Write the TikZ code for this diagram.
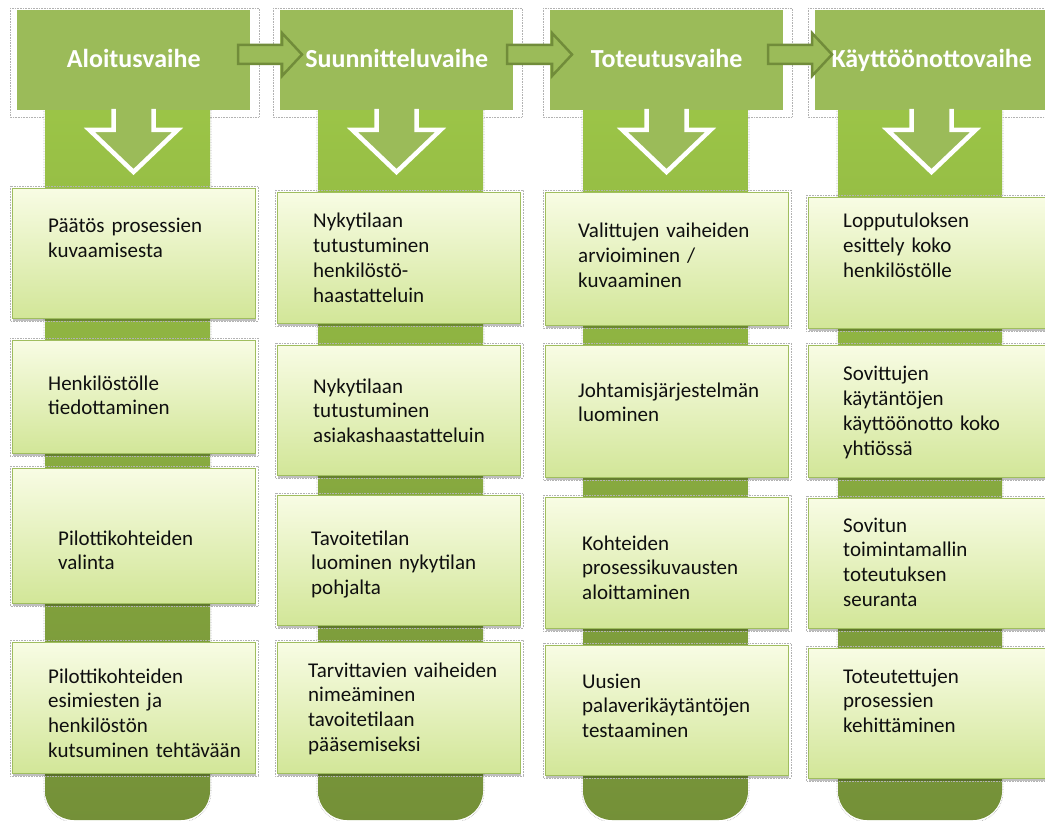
\documentclass[tikz,border=0pt]{standalone}
\usepackage{fontspec}
\setmainfont{Carlito}
\usetikzlibrary{shadows}
\definecolor{hdr}{RGB}{155,187,89}
\definecolor{hdrdark}{RGB}{113,140,58}
\definecolor{stemtop}{RGB}{158,200,72}
\definecolor{stembot}{RGB}{116,144,56}
\definecolor{boxtop}{RGB}{248,252,228}
\definecolor{boxbot}{RGB}{210,230,152}
\definecolor{boxline}{RGB}{160,190,95}
\definecolor{txtc}{RGB}{15,15,15}
\newcommand{\mkbox}[4]{%
  \draw[selline] (#2-2,#3-2) rectangle (#2+246,#4+3);
  \node[box, minimum height={#4pt-#3pt}] (#1) at (#2,#3) {};
}
\begin{document}
\begin{tikzpicture}[x=1pt,y=-1pt,
  selline/.style={draw=black!30, densely dotted, line width=0.6pt},
  header/.style={fill=hdr, anchor=north west, minimum width=233pt, minimum height=100pt,
    inner sep=0pt, text height=20pt, text depth=5pt, text=white,
    font=\bfseries\fontsize{26pt}{30pt}\selectfont},
  stem/.style={top color=stemtop, bottom color=stembot, rounded corners=29pt},
  chev/.style={draw=white, line width=4.5pt, line join=miter, miter limit=3},
  harrow/.style={fill=hdr, draw=hdrdark, line width=2.5pt, line join=miter},
  box/.style={anchor=north west, minimum width=243pt, inner sep=0pt, draw=boxline, line width=0.8pt,
    top color=boxtop, bottom color=boxbot,
    drop shadow={shadow xshift=1pt, shadow yshift=-3pt, fill=black, opacity=0.25}},
  txt/.style={anchor=base west, inner sep=0pt, text width=235pt, align=left, text=txtc,
    font=\fontsize{21pt}{24.8pt}\selectfont}
]
\useasboundingbox (0,0) rectangle (1045,821);
\fill[white] (0,0) rectangle (1045,821);

\foreach \i/\hx/\sa/\sb/\lab in {1/17/45/210/Aloitusvaihe, 2/280/318/483/Suunnitteluvaihe,
    3/550/583/748/Toteutusvaihe, 4/815/838/1002/Käyttöönottovaihe}{
  \draw[selline] (\hx-7,8) rectangle (\hx+242,117);
  \shade[stem] (\sa,60) rectangle (\sb,820);
  \draw[selline, rounded corners=30pt] (\sa-1,100) -- (\sa-1,822) -- (\sb+1,822) -- (\sb+1,100);
  \node[header] (h\i) at (\hx,10) {\lab};
  \pgfmathsetmacro{\cx}{\hx+116.5}
  \fill[hdr] (\cx-20,105) -- (\cx-20,130) -- (\cx-44,130) -- (\cx,172) -- (\cx+44,130) -- (\cx+20,130) -- (\cx+20,105) -- cycle;
  \draw[chev] (\cx-20,109) -- (\cx-20,130) -- (\cx-44,130) -- (\cx,172) -- (\cx+44,130) -- (\cx+20,130) -- (\cx+20,109);
}

% block arrows between the phase headers
\draw[harrow] (238,45) -- (282,45) -- (282,33) -- (302,54.5) -- (282,76) -- (282,64) -- (238,64) -- cycle;
\draw[harrow] (507,45) -- (552,45) -- (552,33) -- (572,54.5) -- (552,76) -- (552,64) -- (507,64) -- cycle;
\draw[harrow] (768,45) -- (812,45) -- (812,33) -- (832,54.5) -- (812,76) -- (812,64) -- (768,64) -- cycle;

% column 1
\mkbox{b11}{12}{188}{318}
\mkbox{b12}{12}{340}{453}
\mkbox{b13}{12}{468}{603}
\mkbox{b14}{12}{642}{773}
\node[txt] (t11) at (48,233) {Päätös prosessien\\kuvaamisesta};
\node[txt] (t12) at (48,390) {Henkilöstölle\\tiedottaminen};
\node[txt] (t13) at (58,545) {Pilottikohteiden\\valinta};
\node[txt] (t14) at (48,683) {Pilottikohteiden\\esimiesten ja\\henkilöstön\\kutsuminen tehtävään};

% column 2
\mkbox{b21}{277}{192}{323}
\mkbox{b22}{277}{345}{475}
\mkbox{b23}{277}{495}{625}
\mkbox{b24}{277}{642}{773}
\node[txt] (t21) at (313,228) {Nykytilaan\\tutustuminen\\henkilöstö-\\haastatteluin};
\node[txt] (t22) at (313,393) {Nykytilaan\\tutustuminen\\asiakashaastatteluin};
\node[txt] (t23) at (311,545) {Tavoitetilan\\luominen nykytilan\\pohjalta};
\node[txt] (t24) at (308,677) {Tarvittavien vaiheiden\\nimeäminen\\tavoitetilaan\\pääsemiseksi};

% column 3
\mkbox{b31}{545}{192}{325}
\mkbox{b32}{545}{345}{477}
\mkbox{b33}{545}{497}{628}
\mkbox{b34}{545}{645}{775}
\node[txt] (t31) at (578,238) {Valittujen vaiheiden\\arvioiminen /\\kuvaaminen};
\node[txt] (t32) at (578,397) {Johtamisjärjestelmän\\luominen};
\node[txt] (t33) at (582,550) {Kohteiden\\prosessikuvausten\\aloittaminen};
\node[txt] (t34) at (582,688) {Uusien\\palaverikäytäntöjen\\testaaminen};

% column 4
\mkbox{b41}{808}{197}{328}
\mkbox{b42}{808}{345}{477}
\mkbox{b43}{808}{498}{628}
\mkbox{b44}{808}{648}{778}
\node[txt] (t41) at (843,228) {Lopputuloksen\\esittely koko\\henkilöstölle};
\node[txt] (t42) at (843,381) {Sovittujen\\käytäntöjen\\käyttöönotto koko\\yhtiössä};
\node[txt] (t43) at (843,532) {Sovitun\\toimintamallin\\toteutuksen\\seuranta};
\node[txt] (t44) at (843,683) {Toteutettujen\\prosessien\\kehittäminen};
\end{tikzpicture}
\end{document}
